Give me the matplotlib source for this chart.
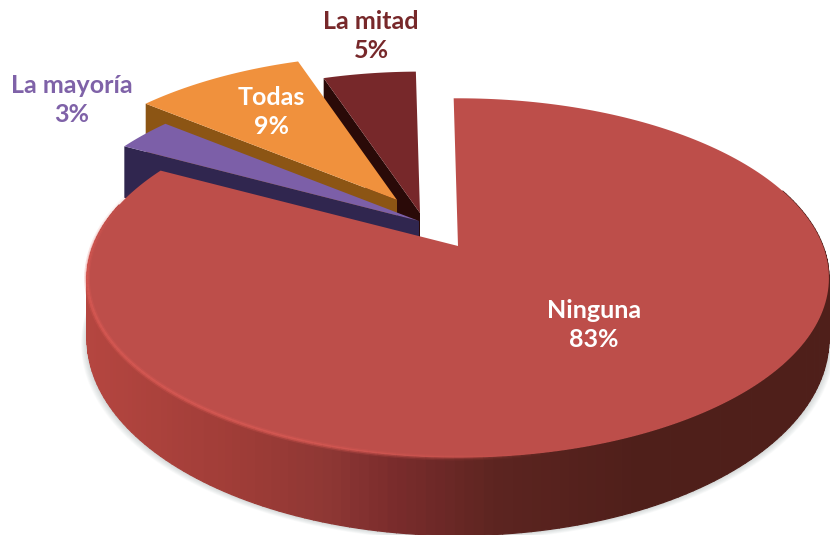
import numpy as np
import matplotlib
matplotlib.use("Agg")
import matplotlib.pyplot as plt
from matplotlib.colors import LinearSegmentedColormap
from matplotlib.collections import LineCollection, PolyCollection
from matplotlib.patches import Polygon

### data

names = ["Ninguna", "La mayoría", "Todas", "La mitad"]
values = [83, 3, 9, 5]

### style

face_colors = ["#BD4E4A", "#7C5FA8", "#F0913D", "#77282A"]
side_colors = ["#8E3734", "#30264F", "#8C5514", "#2A0A08"]
label_colors = ["white", "#7F62A8", "white", "#77282A"]
label_pos = [(594, 325), (72, 100), (271, 112), (371, 36)]

# position of each slice tip on the page (exploded pie) and its radius
tips = [(458, 246), (419, 221), (397, 200), (420, 213)]
radius = [1.0, 0.99, 0.98, 0.95]

# fake 3d camera
a = 365.0     # half width [px]
b = 174.0     # half height [px]
k = 0.178     # perspective
h = 58.0      # thickness [px]
rot = -0.8    # rotation of the pie [deg]


def project(tip, theta, r):
    """theta in degrees clockwise from the top, r in disc radius"""
    t = np.radians(theta)
    u = r * np.sin(t)
    v = -r * np.cos(t)
    den = 1 - k * v
    return tip[0] + a * u / den, tip[1] + b * v / den, h / den ** 1.5


wall_cmap = LinearSegmentedColormap.from_list("wall", [
    (0.0, "#B54640"), (0.22, "#9E3C37"), (0.33, "#8E3734"), (0.42, "#7A2C2C"),
    (0.56, "#5C2420"), (0.75, "#4F1F1A"), (1.0, "#4F1F1A")])

fig = plt.figure(figsize=(8.3, 5.35), dpi=100)
ax = fig.add_axes([0, 0, 1, 1])
ax.set_xlim(0, 830)
ax.set_ylim(535, 0)
ax.axis("off")

edges = rot + np.cumsum([0] + values) * 3.6

# back slices first, the big one in front
for i in [3, 2, 1]:
    th = np.linspace(edges[i], edges[i + 1], 40)
    x, y, d = project(tips[i], th, radius[i])
    x0, y0 = tips[i]
    side = [(x0, y0 + h), (x[0], y[0] + d[0]), (x[0], y[0]), (x0, y0)]
    ax.add_patch(Polygon(side, closed=True, fc=side_colors[i], ec="none"))
    ax.add_patch(Polygon(np.r_[[tips[i]], np.c_[x, y]], closed=True, fc=face_colors[i], ec="none"))

# big slice
th = np.linspace(edges[0], edges[1], 240)
x, y, d = project(tips[0], th, radius[0])

# soft shadow under the disc, front part only
front = (th > 70) & (th < 285)
for s in range(10):
    g = 1 + 0.0016 * (s + 1)
    sx = tips[0][0] + (x[front] - tips[0][0]) * g
    sy = (y + d)[front] + 0.5 * (s + 1)
    ax.fill(sx, sy, color="#7F8A8A", alpha=0.035, lw=0)

# wall, only where it can be seen
polys = []
cols = []
for j in np.nonzero(front[:-1] & front[1:])[0]:
    polys.append([(x[j], y[j]), (x[j + 1], y[j + 1]),
                  (x[j + 1], y[j + 1] + d[j + 1]), (x[j], y[j] + d[j])])
    cols.append(wall_cmap((x[j] - 85) / 745))
ax.add_collection(PolyCollection(polys, facecolors=cols, edgecolors=cols, linewidths=0.9))

# top face
ax.add_patch(Polygon(np.r_[[tips[0]], np.c_[x, y]], closed=True, fc=face_colors[0], ec="none"))

# light rim on the left part of the edge, soft and fading at both ends
segs = np.stack([np.c_[x[:-1], y[:-1]], np.c_[x[1:], y[1:]]], axis=1)
rim = np.clip((560 - x[:-1]) / 260, 0, 1) * np.clip((y[:-1] - 190) / 90, 0, 1)
for lw, alpha in [(4.0, 0.25), (2.0, 0.55)]:
    rim_cols = np.zeros((len(rim), 4))
    rim_cols[:, :3] = matplotlib.colors.to_rgb("#DE5C56")
    rim_cols[:, 3] = rim * alpha
    ax.add_collection(LineCollection(segs, colors=rim_cols, linewidths=lw, capstyle="butt"))

# labels
for i in range(len(names)):
    ax.text(label_pos[i][0], label_pos[i][1], f"{names[i]}\n{values[i]}%",
            color=label_colors[i], ha="center", va="center", family="Lato",
            fontweight="bold", fontsize=18, linespacing=1.3)

fig.savefig("out.png", dpi=100)
